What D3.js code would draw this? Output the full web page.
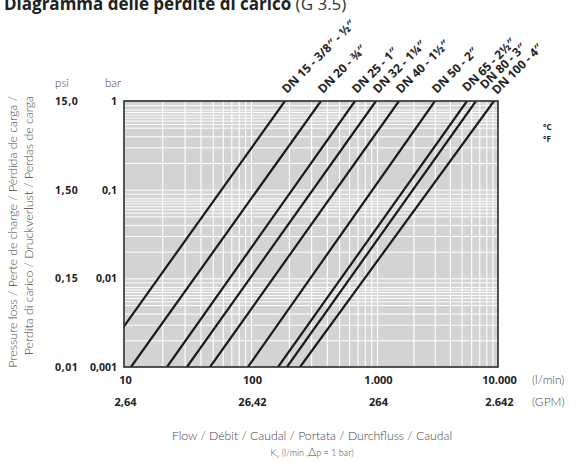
<!DOCTYPE html>
<html>
<head>
<meta charset="utf-8">
<script src="https://cdn.jsdelivr.net/npm/d3@7"></script>
<style>
  body { margin: 0; background: #fff; }
  svg { display: block; }
  .lbl { font-family: "Open Sans", sans-serif; fill: #222; }
  .thin { font-family: "Lato", "Open Sans", sans-serif; font-weight: 300; fill: #444; }
</style>
</head>
<body>
<div id="chart"></div>
<script>
// flow (l/min) and pressure loss (bar)
var xTicks = [10, 100, 1000, 10000];
var xLabelsLmin = ["10", "100", "1.000", "10.000"];
var xLabelsGpm = ["2,64", "26,42", "264", "2.642"];
var yTicks = [1, 0.1, 0.01, 0.001];
var yLabelsBar = ["1", "0,1", "0,01", "0,001"];
var yLabelsPsi = ["15,0", "1,50", "0,15", "0,01"];

// each pipe size: flow at 1 bar and flow at 0.001 bar
var sizes = ["DN 15 - 3/8″ - ½″", "DN 20 - ¾″", "DN 25 - 1″", "DN 32 - 1¼″", "DN 40 - 1½″",
             "DN 50 - 2″", "DN 65 - 2½″", "DN 80 - 3″", "DN 100 - 4″"];
var flowAt1bar = [186, 359, 669, 981, 1520, 3013, 5545, 6580, 9270];
var flowAt0001bar = [5.9, 11.35, 21.8, 31.3, 47.6, 94.7, 164, 193, 245];

var width = 576, height = 462;
var pL = 124, pR = 498, pT = 101, pB = 367;

var svg = d3.select("#chart").append("svg")
    .attr("width", width)
    .attr("height", height);

// grid is drawn slightly compressed in the last decade, like the printed sheet
var x = d3.scaleLog()
    .domain([10, 100, 1000, 10000])
    .range([pL, 251, 377, pR]);

var y = d3.scaleLog()
    .domain([0.001, 1])
    .range([pB, pT]);

// title (cut off at the top like the source page)
var title = svg.append("text")
    .attr("x", 4).attr("y", 10)
    .attr("class", "lbl")
    .style("font-size", "17px");
title.append("tspan").style("font-weight", "bold").text("Diagramma delle perdite di carico");
title.append("tspan").style("font-weight", "normal").style("fill", "#333").text(" (G 3.5)");

// plot background
svg.append("rect")
    .attr("x", pL).attr("y", pT)
    .attr("width", pR - pL).attr("height", pB - pT)
    .style("fill", "#d3d3d3");

var minorX = [];
[10, 100, 1000].forEach(function(d) {
  for (var m = 1; m < 10; m++) minorX.push(d * m);
});
var minorY = [];
[0.001, 0.01, 0.1].forEach(function(d) {
  [1, 2, 3, 4, 5, 5.5, 6, 6.5, 7, 7.5, 8, 9].forEach(function(m) { minorY.push(d * m); });
});

svg.append("g")
    .attr("transform", "translate(0," + pB + ")")
    .call(d3.axisBottom(x).tickValues(minorX).tickSize(-(pB - pT)).tickFormat(""))
    .call(function(g) { g.select(".domain").remove(); })
    .selectAll("line").style("stroke", "#fff").style("stroke-width", 1.1);

svg.append("g")
    .attr("transform", "translate(" + pL + ",0)")
    .call(d3.axisLeft(y).tickValues(minorY).tickSize(-(pR - pL)).tickFormat(""))
    .call(function(g) { g.select(".domain").remove(); })
    .selectAll("line").style("stroke", "#fff").style("stroke-width", 1);

// loss lines
svg.append("clipPath").attr("id", "plotclip")
  .append("rect")
    .attr("x", pL).attr("y", pT)
    .attr("width", pR - pL).attr("height", pB - pT);

var line = d3.line()
    .x(function(d) { return x(d[0]); })
    .y(function(d) { return y(d[1]); });

svg.append("g")
    .attr("clip-path", "url(#plotclip)")
  .selectAll("path")
    .data(sizes)
    .enter()
    .append("path")
    .attr("d", function(d, i) {
      return line([[flowAt0001bar[i], 0.001], [flowAt1bar[i], 1]]);
    })
    .style("fill", "none")
    .style("stroke", "#1a1a1a")
    .style("stroke-width", 2.2);

// frame
svg.append("rect")
    .attr("x", pL).attr("y", pT)
    .attr("width", pR - pL).attr("height", pB - pT)
    .style("fill", "none")
    .style("stroke", "#2a2a2a")
    .style("stroke-width", 1.6);

// size labels, diagonal above the top edge; the crowded ones at the right are
// nudged along / across their diagonal so they don't collide
var along = [0, 0, 0, 0, 0, 0, 0, 8, 0];
var across = [0, 0, 0, 0, 0, 0, -2.5, 2, 1.5];
svg.append("g")
  .selectAll("text")
    .data(sizes)
    .enter()
    .append("text")
    .attr("class", "lbl")
    .attr("transform", function(d, i) {
      var a = along[i] / Math.SQRT2, c = across[i] / Math.SQRT2;
      return "translate(" + (x(flowAt1bar[i]) + 2 + a + c) + "," + (pT - 7 - a + c) + ") rotate(-45)";
    })
    .style("font-size", "12px")
    .style("font-weight", "bold")
    .text(function(d) { return d; });

// axes
function noLine(g) { g.select(".domain").remove(); g.selectAll("line").remove(); }

svg.append("g")
    .attr("transform", "translate(1," + pB + ")")
    .call(d3.axisBottom(x).tickValues(xTicks).tickSize(0).tickPadding(9)
      .tickFormat(function(d, i) { return xLabelsLmin[i]; }))
    .call(noLine)
    .selectAll("text").attr("class", "lbl")
    .style("font-size", "11px").style("font-weight", "bold");

svg.append("g")
    .attr("transform", "translate(1," + (pB + 22) + ")")
    .call(d3.axisBottom(x).tickValues(xTicks).tickSize(0).tickPadding(9)
      .tickFormat(function(d, i) { return xLabelsGpm[i]; }))
    .call(noLine)
    .selectAll("text").attr("class", "lbl")
    .style("font-size", "11px").style("font-weight", "bold");

svg.append("g")
    .attr("transform", "translate(" + pL + ",0)")
    .call(d3.axisLeft(y).tickValues(yTicks).tickSize(0).tickPadding(7)
      .tickFormat(function(d, i) { return yLabelsBar[i]; }))
    .call(noLine)
    .selectAll("text").attr("class", "lbl")
    .style("font-size", "10.5px").style("font-weight", "bold");

svg.append("g")
    .attr("transform", "translate(55,0)")
    .call(d3.axisLeft(y).tickValues(yTicks).tickSize(0).tickPadding(0)
      .tickFormat(function(d, i) { return yLabelsPsi[i]; }))
    .call(noLine)
    .selectAll("text").attr("class", "lbl")
    .attr("x", 0)
    .style("text-anchor", "start")
    .style("font-size", "10.5px").style("font-weight", "bold")
    .style("letter-spacing", "0.6px");

// unit captions
svg.append("text").attr("class", "thin").attr("x", 62).attr("y", 87)
    .style("text-anchor", "middle").style("font-size", "11.5px").text("psi");
svg.append("text").attr("class", "thin").attr("x", 113).attr("y", 87)
    .style("text-anchor", "middle").style("font-size", "11.5px").text("bar");
svg.append("text").attr("class", "thin").attr("x", 532).attr("y", 384)
    .style("font-size", "12px").text("(l/min)");
svg.append("text").attr("class", "thin").attr("x", 532).attr("y", 406)
    .style("font-size", "12px").text("(GPM)");

svg.append("text").attr("class", "lbl").attr("x", 543).attr("y", 130)
    .style("font-size", "8px").style("font-weight", "bold").text("°C");
svg.append("text").attr("class", "lbl").attr("x", 543).attr("y", 142)
    .style("font-size", "8px").style("font-weight", "bold").text("°F");

// y title, two rotated lines anchored at the top
svg.append("text").attr("class", "thin")
    .attr("transform", "translate(17,96) rotate(-90)")
    .style("text-anchor", "end").style("font-size", "12.3px")
    .text("Pressure loss / Perte de charge / Pérdida de carga /");
svg.append("text").attr("class", "thin")
    .attr("transform", "translate(33,96) rotate(-90)")
    .style("text-anchor", "end").style("font-size", "12.3px")
    .text("Perdita di carico / Druckverlust / Perdas de carga");

// x title
svg.append("text").attr("class", "thin")
    .attr("x", 312).attr("y", 440)
    .style("text-anchor", "middle").style("font-size", "12.2px")
    .text("Flow / Débit / Caudal / Portata / Durchfluss / Caudal");

var kv = svg.append("text").attr("class", "thin")
    .attr("x", 312).attr("y", 456)
    .style("text-anchor", "middle").style("font-size", "9px");
kv.append("tspan").text("K");
kv.append("tspan").attr("dy", 2).style("font-size", "6px").text("v");
kv.append("tspan").attr("dy", -2).text(" (l/min ,");
kv.append("tspan").style("font-size", "12px").text("Δ");
kv.append("tspan").text("p = 1 bar)");
</script>
</body>
</html>
